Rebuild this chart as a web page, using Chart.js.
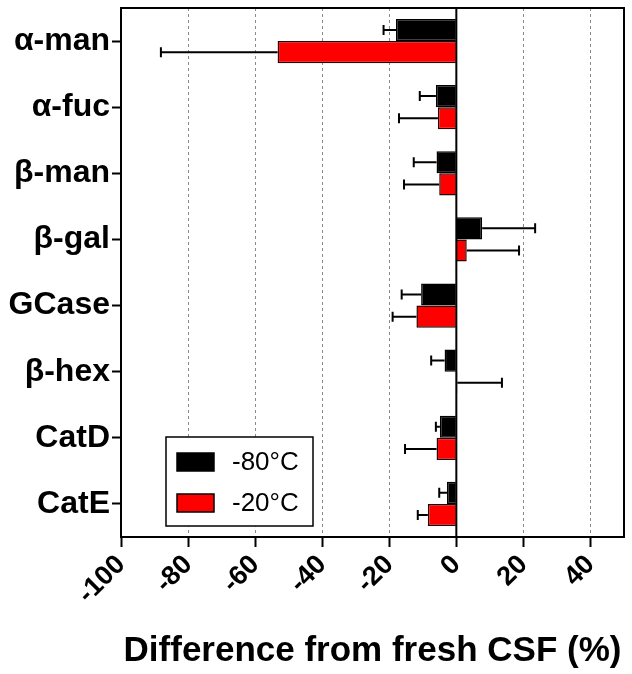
<!DOCTYPE html>
<html>
<head>
<meta charset="utf-8">
<script src="https://cdn.jsdelivr.net/npm/chart.js@4"></script>
<style>
  html, body { margin: 0; padding: 0; background: #fff; }
  #wrap { width: 632px; height: 674px; }
</style>
</head>
<body>
<div id="wrap"><canvas id="chart" width="632" height="674"></canvas></div>
<script>
var enzymes = ['α-man', 'α-fuc', 'β-man', 'β-gal', 'GCase', 'β-hex', 'CatD', 'CatE'];
var seriesNames = ['-80°C', '-20°C'];
var minus80 = [-18.0, -6.1, -5.9, 7.7, -10.5, -3.5, -4.9, -2.8];
var minus20 = [-53.3, -5.5, -5.1, 3.1, -11.9, 0.3, -5.9, -8.5];
var err80 = [3.7, 4.8, 6.8, 15.8, 5.8, 4.0, 1.2, 2.3];
var err20 = [34.8, 11.6, 10.5, 15.6, 7.1, 13.3, 9.4, 3.0];
var xTicks = [-100, -80, -60, -40, -20, 0, 20, 40];

var FONT = "'Liberation Sans', Arial, sans-serif";

// error bars, zero line, frame and the boxed legend
var extras = {
    id: 'extras',
    afterDatasetsDraw: function(chart) {
        var ctx = chart.ctx;
        var x = chart.scales.x;
        var area = chart.chartArea;
        var errs = [err80, err20];

        ctx.save();
        ctx.strokeStyle = '#000';
        ctx.lineWidth = 2;
        chart.data.datasets.forEach(function(ds, di) {
            var meta = chart.getDatasetMeta(di);
            meta.data.forEach(function(bar, i) {
                var v = ds.data[i];
                var sign = v < 0 ? -1 : 1;
                var endPx = x.getPixelForValue(v + sign * errs[di][i]);
                ctx.beginPath();
                ctx.moveTo(bar.x, bar.y);
                ctx.lineTo(endPx, bar.y);
                ctx.moveTo(endPx, bar.y - 5);
                ctx.lineTo(endPx, bar.y + 5);
                ctx.stroke();
            });
        });

        var zero = x.getPixelForValue(0);
        ctx.beginPath();
        ctx.moveTo(zero, area.top);
        ctx.lineTo(zero, area.bottom);
        ctx.stroke();

        ctx.strokeRect(area.left, area.top, area.right - area.left, area.bottom - area.top);

        var lx = 166, ly = 437, lw = 147, lh = 89;
        ctx.fillStyle = '#fff';
        ctx.fillRect(lx, ly, lw, lh);
        ctx.lineWidth = 1.5;
        ctx.strokeRect(lx, ly, lw, lh);
        chart.data.datasets.forEach(function(ds, di) {
            var sy = 453 + di * 41;
            ctx.fillStyle = ds.backgroundColor;
            ctx.fillRect(177, sy, 37, 18);
            ctx.lineWidth = 1.5;
            ctx.strokeStyle = '#000';
            ctx.strokeRect(177, sy, 37, 18);
            ctx.fillStyle = '#000';
            ctx.font = '26px ' + FONT;
            ctx.textBaseline = 'middle';
            ctx.textAlign = 'left';
            ctx.fillText(ds.label, 232, sy + 10);
        });
        ctx.restore();
    }
};

new Chart(document.getElementById('chart'), {
    type: 'bar',
    data: {
        labels: enzymes,
        datasets: [
            { label: seriesNames[0], data: minus80, backgroundColor: '#000000', borderColor: '#000', borderWidth: 1.5 },
            { label: seriesNames[1], data: minus20, backgroundColor: '#ff0000', borderColor: '#2a0000', borderWidth: 1.5 }
        ]
    },
    options: {
        indexAxis: 'y',
        responsive: false,
        animation: false,
        events: [],
        layout: { padding: { left: 0, right: 8, top: 8, bottom: 2 } },
        datasets: { bar: { categoryPercentage: 0.67, barPercentage: 1.0 } },
        plugins: {
            legend: { display: false },
            tooltip: { enabled: false }
        },
        scales: {
            x: {
                min: -100,
                max: 50,
                afterBuildTicks: function(scale) {
                    scale.ticks = xTicks.map(function(v) { return { value: v }; });
                },
                afterFit: function(scale) {
                    scale.height = 135;
                    scale.paddingLeft = 0;
                    scale.paddingRight = 0;
                },
                ticks: {
                    autoSkip: false,
                    minRotation: 45,
                    maxRotation: 45,
                    padding: 2,
                    color: '#000',
                    font: { family: FONT, size: 27, weight: 'bold' }
                },
                grid: {
                    color: function(c) { return c.tick && c.tick.value === 0 ? 'rgba(0,0,0,0)' : '#8a8a8a'; },
                    lineWidth: 1,
                    tickLength: 10,
                    tickColor: '#000',
                    tickWidth: 2,
                    tickBorderDash: []
                },
                border: { display: false, dash: [3, 3] },
                title: {
                    display: true,
                    text: 'Difference from fresh CSF (%)',
                    color: '#000',
                    font: { family: FONT, size: 35, weight: 'bold' },
                    padding: { top: 0, bottom: 0 }
                }
            },
            y: {
                afterFit: function(scale) {
                    scale.width = 121;
                    scale.paddingTop = 0;
                    scale.paddingBottom = 0;
                },
                ticks: {
                    color: '#000',
                    padding: 2,
                    font: { family: FONT, size: 32, weight: 'bold' }
                },
                grid: {
                    offset: false,
                    drawOnChartArea: false,
                    tickLength: 9,
                    tickColor: '#000',
                    tickWidth: 2
                },
                border: { display: false }
            }
        }
    },
    plugins: [extras]
});
</script>
</body>
</html>
